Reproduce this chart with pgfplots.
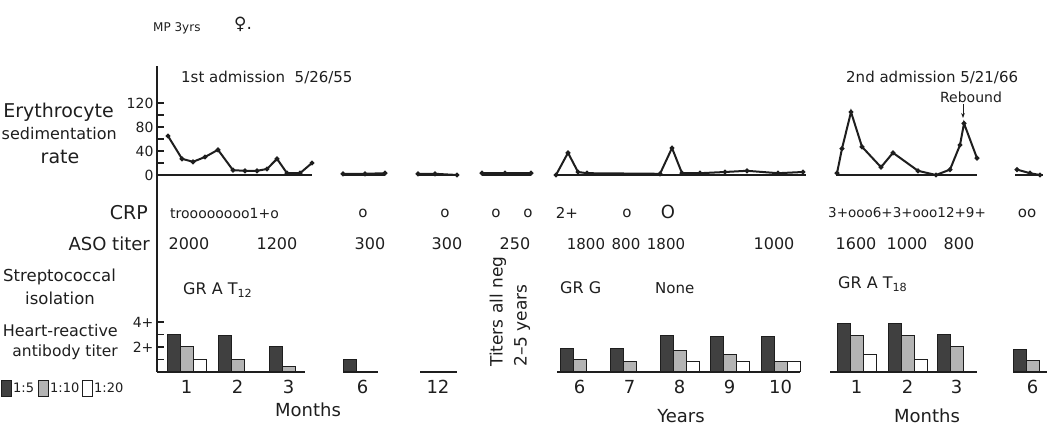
\documentclass[border=0pt]{standalone}
\usepackage{fontspec}
\setmainfont{DejaVu Sans}
\usepackage{pgfplots}
\pgfplotsset{compat=1.18}
\usetikzlibrary{arrows.meta}
\newcommand{\fs}[1]{\fontsize{#1}{#1}\selectfont}
\definecolor{ink}{HTML}{1E1E1E}
\definecolor{stip}{HTML}{B4B4B4}
\tikzset{lbl/.style={inner sep=0pt,text=ink}}
\begin{document}
\begin{tikzpicture}[x=1pt,y=1pt]
\path[use as bounding box] (0,0) rectangle (1047,431);
\clip (0,0) rectangle (1047,431);
% ---------------- frame axis in pixel units (y downwards) ----------------
\begin{axis}[at={(0,0)},anchor=south west,scale only axis,width=1047pt,height=431pt,
  xmin=0,xmax=1047,ymin=0,ymax=431,y dir=reverse,hide axis,clip=false]
\draw[ink,line width=1.6pt] (axis cs:157,66) -- (axis cs:157,372);
\node[lbl,anchor=west,font=\fs{12}] at (axis cs:153,28) {MP 3yrs};
\node[lbl,anchor=west,font=\fs{17}] at (axis cs:234,24) {♀.};
\node[lbl,anchor=west,font=\fs{15}] at (axis cs:181,77) {1st admission\ \ 5/26/55};
\node[lbl,anchor=west,font=\fs{15}] at (axis cs:846,77) {2nd admission 5/21/66};
\node[lbl,anchor=center,font=\fs{14}] at (axis cs:971,97) {Rebound};
\draw[ink,line width=1pt,-{Stealth[length=5pt]}] (axis cs:963,104) -- (axis cs:963,118);
% left labels
\node[lbl,anchor=east,font=\fs{19}] at (axis cs:114,112) {Erythrocyte};
\node[lbl,anchor=east,font=\fs{16}] at (axis cs:117,134) {sedimentation};
\node[lbl,anchor=center,font=\fs{19}] at (axis cs:60,157) {rate};
\node[lbl,anchor=east,font=\fs{19}] at (axis cs:148,213) {CRP};
\node[lbl,anchor=east,font=\fs{18}] at (axis cs:150,244) {ASO titer};
\node[lbl,anchor=east,font=\fs{16.5}] at (axis cs:116,277) {Streptococcal};
\node[lbl,anchor=east,font=\fs{16.5}] at (axis cs:95,298) {isolation};
\node[lbl,anchor=east,font=\fs{16}] at (axis cs:118,331) {Heart-reactive};
\node[lbl,anchor=east,font=\fs{15.5}] at (axis cs:118,352) {antibody titer};
% legend
\draw[ink,line width=1pt,fill=ink!85] (axis cs:1,380) rectangle (axis cs:11,396);
\node[lbl,anchor=west,font=\fs{13}] at (axis cs:13,388) {1:5};
\draw[ink,line width=1pt,fill=stip] (axis cs:38,380) rectangle (axis cs:48,396);
\node[lbl,anchor=west,font=\fs{13}] at (axis cs:50,388) {1:10};
\draw[ink,line width=1pt,fill=white] (axis cs:82,380) rectangle (axis cs:92,396);
\node[lbl,anchor=west,font=\fs{13}] at (axis cs:94,388) {1:20};
% CRP row
\node[lbl,anchor=west,font=\fs{14}] at (axis cs:170,213) {troooooooo1+o};
\node[lbl,font=\fs{15}] at (axis cs:363,213) {o};
\node[lbl,font=\fs{15}] at (axis cs:445,213) {o};
\node[lbl,font=\fs{15}] at (axis cs:496,213) {o};
\node[lbl,font=\fs{15}] at (axis cs:528,213) {o};
\node[lbl,font=\fs{15}] at (axis cs:567,213) {2+};
\node[lbl,font=\fs{15}] at (axis cs:627,213) {o};
\node[lbl,font=\fs{18}] at (axis cs:668,212) {O};
\node[lbl,anchor=west,font=\fs{13.5}] at (axis cs:828,213) {3+ooo6+3+ooo12+9+};
\node[lbl,font=\fs{15}] at (axis cs:1027,213) {oo};
% ASO row
\node[lbl,font=\fs{16}] at (axis cs:189,244) {2000};
\node[lbl,font=\fs{16}] at (axis cs:277,244) {1200};
\node[lbl,font=\fs{16}] at (axis cs:370,244) {300};
\node[lbl,font=\fs{16}] at (axis cs:447,244) {300};
\node[lbl,font=\fs{16}] at (axis cs:515,244) {250};
\node[lbl,font=\fs{15}] at (axis cs:586,244) {1800};
\node[lbl,font=\fs{15}] at (axis cs:626,244) {800};
\node[lbl,font=\fs{15}] at (axis cs:666,244) {1800};
\node[lbl,font=\fs{16}] at (axis cs:774,244) {1000};
\node[lbl,font=\fs{16}] at (axis cs:856,244) {1600};
\node[lbl,font=\fs{16}] at (axis cs:907,244) {1000};
\node[lbl,font=\fs{16}] at (axis cs:959,244) {800};
% isolation row
\node[lbl,anchor=west,font=\fs{16}] at (axis cs:183,290) {GR A T\textsubscript{12}};
\node[lbl,anchor=west,font=\fs{16}] at (axis cs:560,288) {GR G};
\node[lbl,anchor=west,font=\fs{15}] at (axis cs:655,288) {None};
\node[lbl,anchor=west,font=\fs{16}] at (axis cs:838,284) {GR A T\textsubscript{18}};
\node[lbl,anchor=west,rotate=90,font=\fs{17}] at (axis cs:498,367) {Titers all neg};
\node[lbl,anchor=west,rotate=90,font=\fs{17}] at (axis cs:522,367) {2--5 years};
% axis titles
\node[lbl,font=\fs{18}] at (axis cs:308,410) {Months};
\node[lbl,font=\fs{18}] at (axis cs:681,416) {Years};
\node[lbl,font=\fs{18}] at (axis cs:927,416) {Months};
\end{axis}
% ---------------- ESR axis ----------------
\begin{axis}[at={(157pt,256pt)},anchor=south west,scale only axis,width=890pt,height=72pt,
  xmin=157,xmax=1047,ymin=0,ymax=120,axis x line=none,axis y line*=left,
  y axis line style={draw=none},ytick={0,40,80,120},minor ytick={20,60,100},
  tick align=inside,major tick length=7pt,minor tick length=7pt,
  every tick/.style={ink,line width=1.2pt},
  /pgf/number format/assume math mode=true,
  yticklabel style={font=\fs{14},text=ink},clip=false]
\pgfplotsset{esr/.style={ink,line width=2pt,mark=*,mark size=1.3pt}}
\addplot[esr] coordinates {(168,65) (182,27) (193,22) (205,30) (218,42) (233,8) (245,7) (257,7) (267,10) (277,27) (287,3) (300,3) (312,20)};
\addplot[esr] coordinates {(343,2) (365,2) (385,3)};
\addplot[esr] coordinates {(418,2) (435,2) (457,0)};
\addplot[esr] coordinates {(482,3) (505,3) (531,3)};
\addplot[esr] coordinates {(556,0) (568,37) (578,5) (587,3) (660,2) (672,45) (682,3) (700,3) (725,5) (747,7) (778,3) (803,5)};
\addplot[esr] coordinates {(837,3) (842,44) (851,105) (862,47) (881,13) (893,37) (918,7) (936,0) (950,9) (960,50) (964,86) (977,28)};
\addplot[esr] coordinates {(1017,9) (1030,3) (1040,0)};
\draw[ink,line width=1.6pt] (axis cs:157,0) -- (axis cs:312,0);
\draw[ink,line width=1.6pt] (axis cs:343,0) -- (axis cs:385,0);
\draw[ink,line width=1.6pt] (axis cs:418,0) -- (axis cs:457,0);
\draw[ink,line width=1.6pt] (axis cs:482,0) -- (axis cs:531,0);
\draw[ink,line width=1.6pt] (axis cs:556,0) -- (axis cs:806,0);
\draw[ink,line width=1.6pt] (axis cs:836,0) -- (axis cs:977,0);
\draw[ink,line width=1.6pt] (axis cs:1015,0) -- (axis cs:1043,0);
\end{axis}
% ---------------- antibody titer bars ----------------
\begin{axis}[at={(157pt,59pt)},anchor=south west,scale only axis,width=890pt,height=50pt,
  xmin=157,xmax=1047,ymin=0,ymax=4,axis lines*=left,
  x axis line style={draw=none},y axis line style={draw=none},
  ytick={1,2,3,4},yticklabels={,2+,,4+},
  xtick={186.5,237.5,288.5,362.5,438,579.5,629.5,679.5,729.5,780.5,856.5,907.5,956.5,1032.5},
  xticklabels={1,2,3,6,12,6,7,8,9,10,1,2,3,6},
  tick align=inside,major tick length=7pt,
  xtick style={draw=none},ytick style={ink,line width=1.2pt},
  yticklabel style={font=\fs{14},text=ink},
  xticklabel style={font=\fs{18},text=ink,yshift=-5pt},clip=false]
\draw[ink,line width=1.6pt] (axis cs:157,0) -- (axis cs:305,0);
\draw[ink,line width=1.6pt] (axis cs:343,0) -- (axis cs:378,0);
\draw[ink,line width=1.6pt] (axis cs:420,0) -- (axis cs:457,0);
\draw[ink,line width=1.6pt] (axis cs:557,0) -- (axis cs:800,0);
\draw[ink,line width=1.6pt] (axis cs:830,0) -- (axis cs:977,0);
\draw[ink,line width=1.6pt] (axis cs:1013,0) -- (axis cs:1047,0);
\addplot[ybar,bar width=13,bar shift=0pt,fill=ink!85,draw=ink,line width=1pt] coordinates
  {(173.5,3) (224.5,2.9) (275.5,2) (349.5,1) (566.5,1.9) (616.5,1.9) (666.5,2.9) (716.5,2.8) (767.5,2.8) (843.5,3.9) (894.5,3.9) (943.5,3) (1019.5,1.8)};
\addplot[ybar,bar width=13,bar shift=0pt,fill=stip,draw=ink,line width=1pt] coordinates
  {(186.5,2) (237.5,1) (288.5,0.4) (579.5,1) (629.5,0.8) (679.5,1.7) (729.5,1.4) (780.5,0.85) (856.5,2.9) (907.5,2.9) (956.5,2) (1032.5,0.9)};
\addplot[ybar,bar width=13,bar shift=0pt,fill=white,draw=ink,line width=1pt] coordinates
  {(199.5,1) (692.5,0.85) (742.5,0.85) (793.5,0.85) (869.5,1.4) (920.5,1)};
\end{axis}
\end{tikzpicture}
\end{document}
